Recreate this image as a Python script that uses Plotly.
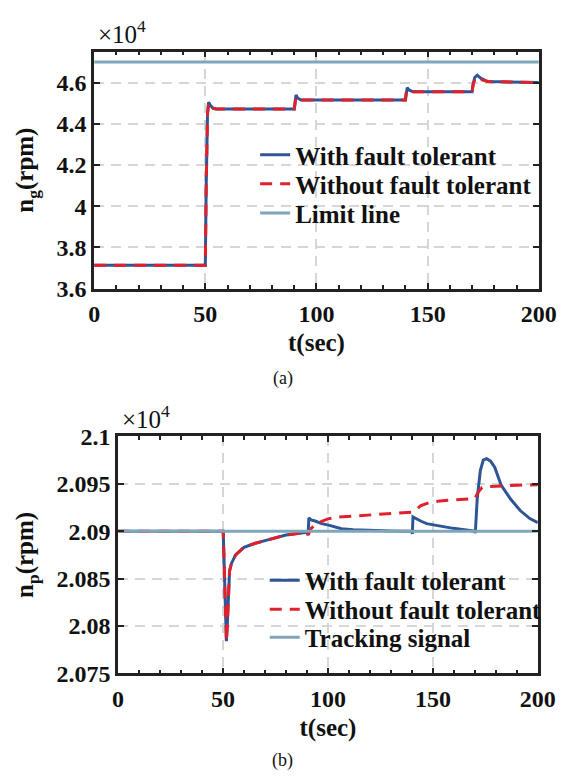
import plotly.graph_objects as go

# ---------------- data (units of 1e4 rpm) ----------------
# (a) gas generator speed n_g
t_a_ft = [0, 50, 50.4, 51.0, 51.5, 52.2, 53.5, 55, 90, 90.4, 90.8, 91.5, 93, 140, 140.3, 140.8, 141.8, 143.5,
          170, 170.4, 171.2, 172.3, 174, 177, 200]
ng_ft = [3.713, 3.713, 4.10, 4.45, 4.505, 4.49, 4.475, 4.472, 4.472, 4.52, 4.54, 4.525, 4.515, 4.515, 4.55,
         4.575, 4.563, 4.555, 4.555, 4.59, 4.625, 4.636, 4.62, 4.605, 4.600]
t_a_noft = [0, 50, 50.4, 51.0, 51.5, 52.2, 53.5, 55, 90, 90.4, 90.8, 91.5, 93, 140, 140.3, 140.8, 141.8, 143.5,
            170, 170.4, 171.2, 172.3, 174, 177, 200]
ng_noft = [3.713, 3.713, 4.10, 4.45, 4.50, 4.488, 4.475, 4.472, 4.472, 4.515, 4.53, 4.52, 4.515, 4.515, 4.548,
           4.565, 4.56, 4.555, 4.555, 4.585, 4.615, 4.625, 4.615, 4.605, 4.600]
limit_t = [0, 200]
limit_ng = [4.70, 4.70]

# (b) power turbine speed n_p
t_b_ft = [0, 50, 50.1, 50.6, 51.1, 51.6, 52.0, 52.5, 53.1, 54, 56, 60, 65, 70, 80, 90, 90.5, 90.9, 92, 94.2,
          97, 100.3, 106.4, 112, 120, 130, 140, 140.2, 140.5, 142, 144.4, 147, 150.5, 155, 159.7, 165, 170,
          170.2, 171.1, 172.6, 174, 175.6, 177.5, 179.5, 182.5, 187.1, 191.6, 196.2, 200]
np_ft = [2.0900, 2.0900, 2.0898, 2.0850, 2.0805, 2.0784, 2.0800, 2.0835, 2.0858, 2.0866, 2.0875, 2.0883,
         2.0887, 2.0890, 2.0896, 2.0899, 2.0896, 2.0914, 2.0912, 2.09105, 2.0908, 2.09064, 2.09027, 2.09015,
         2.09008, 2.09003, 2.0900, 2.0897, 2.0915, 2.0913, 2.09105, 2.0908, 2.09064, 2.09045, 2.0903,
         2.09015, 2.0900, 2.0898, 2.0934, 2.0964, 2.0975, 2.09765, 2.0974, 2.09673, 2.09486, 2.09337,
         2.09218, 2.09133, 2.0909]
t_b_noft = [0, 50, 50.1, 50.6, 51.1, 51.6, 52.0, 52.5, 53.1, 54, 56, 60, 65, 70, 80, 90, 90.5, 92, 94, 97,
            100, 105, 112, 120, 127.7, 135, 140, 142, 144.3, 148, 153.4, 160, 168.8, 170, 171.5, 173.4, 176,
            180, 184, 190, 199, 200]
np_noft = [2.0900, 2.0900, 2.0898, 2.0850, 2.0805, 2.0784, 2.0800, 2.0835, 2.0858, 2.0866, 2.0875, 2.0883,
           2.0887, 2.0890, 2.0896, 2.0899, 2.0896, 2.0903, 2.0907, 2.09105, 2.0913, 2.0915, 2.0916, 2.09175,
           2.0919, 2.09195, 2.0920, 2.0923, 2.0927, 2.0930, 2.0932, 2.0933, 2.0934, 2.09345, 2.0941, 2.0946,
           2.0947, 2.09475, 2.0948, 2.09485, 2.0949, 2.0949]
track_t = [0, 200]
track_np = [2.0900, 2.0900]

x_ticks = [0, 50, 100, 150, 200]
ya_ticks = [3.6, 3.8, 4.0, 4.2, 4.4, 4.6]
ya_text = ["3.6", "3.8", "4", "4.2", "4.4", "4.6"]
yb_ticks = [2.075, 2.08, 2.085, 2.09, 2.095, 2.1]
yb_text = ["2.075", "2.08", "2.085", "2.09", "2.095", "2.1"]

names_a = ["With fault tolerant", "Without fault tolerant", "Limit line"]
names_b = ["With fault tolerant", "Without fault tolerant", "Tracking signal"]

# ---------------- styling ----------------
W, H = 575, 783
BLUE = "#2f5597"
RED = "#e0212b"
LIGHT = "#7fa6bb"
FONT = "Liberation Serif"

def px_x(p):
    return p / W

def px_y(p):
    return 1 - p / H

fig = go.Figure()

fig.add_trace(go.Scatter(x=t_a_ft, y=ng_ft, mode="lines", name=names_a[0],
                         line=dict(color=BLUE, width=3), xaxis="x", yaxis="y", legend="legend"))
fig.add_trace(go.Scatter(x=t_a_noft, y=ng_noft, mode="lines", name=names_a[1],
                         line=dict(color=RED, width=3, dash="12px,8px"), xaxis="x", yaxis="y", legend="legend2"))
fig.add_trace(go.Scatter(x=limit_t, y=limit_ng, mode="lines", name=names_a[2],
                         line=dict(color=LIGHT, width=3), xaxis="x", yaxis="y", legend="legend3"))

fig.add_trace(go.Scatter(x=t_b_ft, y=np_ft, mode="lines", name=names_b[0],
                         line=dict(color=BLUE, width=3), xaxis="x2", yaxis="y2", legend="legend4"))
fig.add_trace(go.Scatter(x=t_b_noft, y=np_noft, mode="lines", name=names_b[1],
                         line=dict(color=RED, width=3, dash="12px,8px"), xaxis="x2", yaxis="y2", legend="legend5"))
fig.add_trace(go.Scatter(x=track_t, y=track_np, mode="lines", name=names_b[2],
                         line=dict(color=LIGHT, width=3), xaxis="x2", yaxis="y2", legend="legend6"))

tickfont = dict(family=FONT, size=24, color="#111111", weight="bold")
titlefont = dict(family=FONT, size=25, color="#111111", weight="bold")

def xaxis(domain, anchor):
    return dict(domain=domain, anchor=anchor, range=[0, 200], tickvals=x_ticks,
                ticks="inside", ticklen=6, tickwidth=2, tickcolor="#222222", ticklabelstandoff=2,
                minor=dict(dtick=10, ticks="inside", ticklen=4, tickwidth=2, tickcolor="#222222", showgrid=False),
                showline=True, linewidth=2.5, linecolor="#222222", mirror="ticks",
                showgrid=True, gridcolor="#d6d6d6", gridwidth=2, griddash="10px,7px",
                zeroline=False, tickfont=tickfont,
                title=dict(text="t(sec)", font=titlefont, standoff=8))

def yaxis(domain, anchor, rng, tv, tt, title):
    return dict(domain=domain, anchor=anchor, range=rng, tickvals=tv, ticktext=tt,
                ticks="inside", ticklen=6, tickwidth=2, tickcolor="#222222",
                showline=True, linewidth=2.5, linecolor="#222222", mirror="ticks",
                showgrid=True, gridcolor="#d6d6d6", gridwidth=2, griddash="10px,7px",
                zeroline=False, tickfont=tickfont,
                title=dict(text=title, font=titlefont, standoff=16))

legfont = dict(family=FONT, size=25, color="#111111", weight="bold")

def leg(xp, yp):
    return dict(x=px_x(xp), y=px_y(yp), xanchor="left", yanchor="middle",
                bgcolor="rgba(0,0,0,0)", font=legfont)

fig.update_layout(
    width=W, height=H, margin=dict(l=0, r=0, t=0, b=0),
    paper_bgcolor="white", plot_bgcolor="white",
    font=dict(family=FONT),
    xaxis=xaxis([px_x(92), px_x(556)], "y"),
    yaxis=yaxis([px_y(285), px_y(40)], "x", [3.6, 4.75], ya_ticks, ya_text, "n<sub>g</sub>(rpm)"),
    xaxis2=xaxis([px_x(117), px_x(555)], "y2"),
    yaxis2=yaxis([px_y(683), px_y(438)], "x2", [2.075, 2.1], yb_ticks, yb_text, "n<sub>p</sub>(rpm)"),
    legend=leg(260, 147), legend2=leg(260, 177), legend3=leg(260, 207),
    legend4=leg(270, 587), legend5=leg(270, 617), legend6=leg(270, 646),
    showlegend=True,
    annotations=[
        dict(text="×10<sup>4</sup>", x=px_x(94), y=px_y(38), xref="paper", yref="paper",
             xanchor="left", yanchor="bottom", showarrow=False,
             font=dict(family=FONT, size=25, color="#111111")),
        dict(text="×10<sup>4</sup>", x=px_x(119), y=px_y(436), xref="paper", yref="paper",
             xanchor="left", yanchor="bottom", showarrow=False,
             font=dict(family=FONT, size=25, color="#111111")),
        dict(text="(a)", x=px_x(289), y=px_y(378), xref="paper", yref="paper",
             xanchor="center", yanchor="middle", showarrow=False,
             font=dict(family=FONT, size=18, color="#111111")),
        dict(text="(b)", x=px_x(289), y=px_y(773), xref="paper", yref="paper",
             xanchor="center", yanchor="middle", showarrow=False,
             font=dict(family=FONT, size=18, color="#111111")),
    ],
)

fig.write_html("out.html")
